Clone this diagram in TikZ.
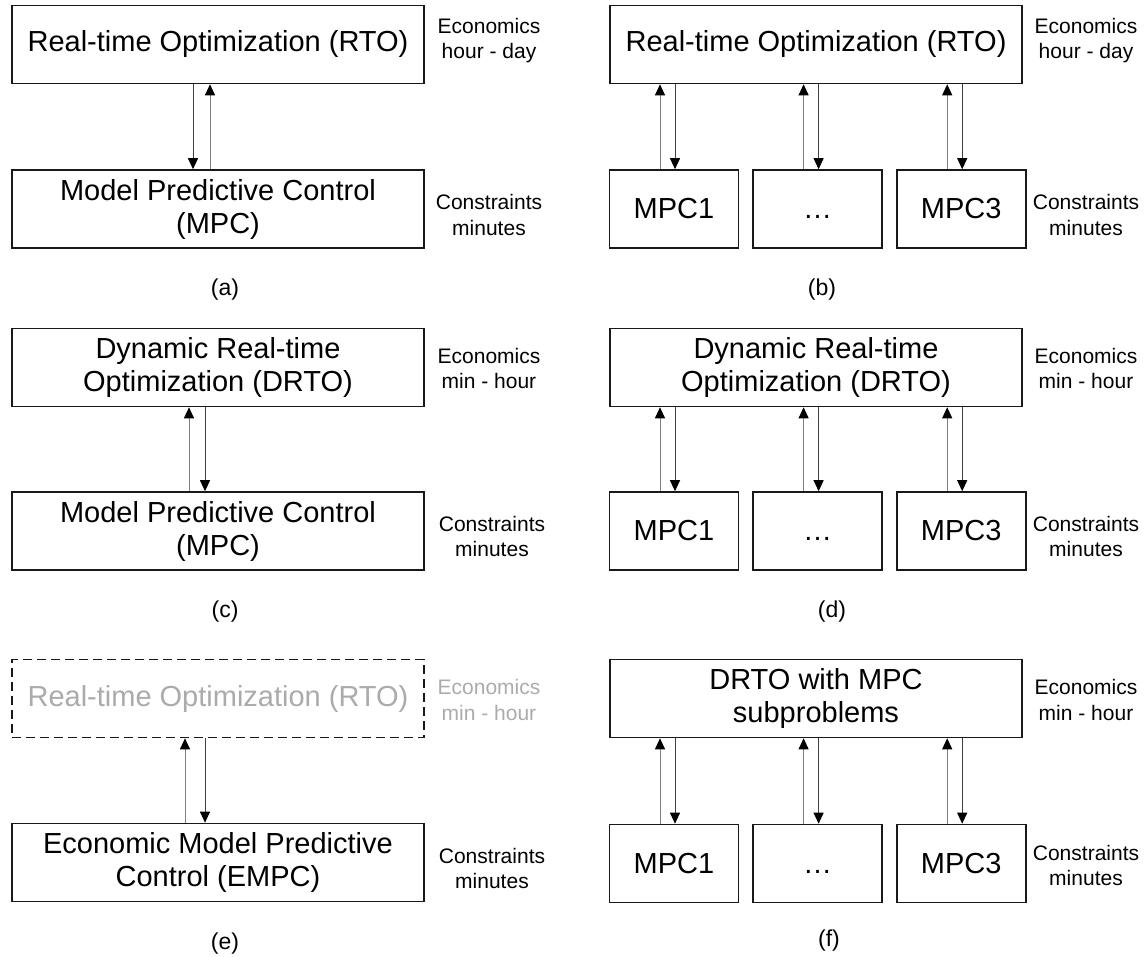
\documentclass[tikz,border=0pt]{standalone}
\usepackage{fontspec}
\setmainfont{Liberation Sans}
\usetikzlibrary{arrows.meta,positioning}

\tikzset{
	blk/.style={draw=black!90, line width=1.6pt, minimum height=78pt, inner sep=0pt, align=center, font=\fontsize{29}{33}\selectfont},
	widebox/.style={blk, minimum width=412pt},
	mpcbox/.style={blk, minimum width=129pt},
	ghostbox/.style={widebox, dash pattern=on 9pt off 5pt, text=black!33},
	sidelbl/.style={align=center, inner sep=0pt, font=\fontsize{21}{25.5}\selectfont},
	sublbl/.style={inner sep=0pt, font=\fontsize{23}{27}\selectfont},
	dnarr/.style={draw=black!75, line width=1pt, -{Triangle[length=11pt,width=10pt,color=black]}},
	uparr/.style={draw=black!50, line width=1pt, -{Triangle[length=11pt,width=10pt,color=black]}},
}

\begin{document}
\begin{tikzpicture}[x=1pt, y=-1pt]
		\useasboundingbox (0,0) rectangle (1146,957);
		% (a)
		\node[widebox] (rtoa) at (218,44.5) {Real-time Optimization (RTO)};
		\node[widebox] (mpca) at (218,209) {Model Predictive Control\\(MPC)};
		\draw[dnarr] ([xshift=-25pt]rtoa.south) -- ([xshift=-25pt]mpca.north);
		\draw[uparr] ([xshift=-8pt]mpca.north) -- ([xshift=-8pt]rtoa.south);
		\node[sidelbl] (eca) at (489,40.5) {Economics\\hour - day};
		\node[sidelbl] (coa) at (489,215) {Constraints\\minutes};
		\node[sublbl] (laba) at (225,290) {(a)};
		% (b)
		\node[widebox] (rtob) at (816,44.5) {Real-time Optimization (RTO)};
		\node[mpcbox] (b1) at (674,209) {MPC1};
		\node[mpcbox, right=13pt of b1] (b2) {\vphantom{1}…};
		\node[mpcbox, right=13pt of b2] (b3) {MPC3};
		\foreach \m in {b1,b2,b3} {
			\draw[uparr] ([xshift=-14pt]\m.north) -- ([xshift=-14pt]\m.north |- rtob.south);
			\draw[dnarr] ([xshift=1pt]\m.north |- rtob.south) -- ([xshift=1pt]\m.north);
		}
		\node[sidelbl] (ecb) at (1086,40.5) {Economics\\hour - day};
		\node[sidelbl] (cob) at (1086,215) {Constraints\\minutes};
		\node[sublbl] (labb) at (822,290) {(b)};
		% (c)
		\node[widebox] (drtoc) at (218,367.5) {Dynamic Real-time\\Optimization (DRTO)};
		\node[widebox] (mpcc) at (218,531) {Model Predictive Control\\(MPC)};
		\draw[uparr] ([xshift=-29pt]mpcc.north) -- ([xshift=-29pt]drtoc.south);
		\draw[dnarr] ([xshift=-13pt]drtoc.south) -- ([xshift=-13pt]mpcc.north);
		\node[sidelbl] (ecc) at (489,368.5) {Economics\\min - hour};
		\node[sidelbl] (coc) at (492,536.5) {Constraints\\minutes};
		\node[sublbl] (labc) at (225,612) {(c)};
		% (d)
		\node[widebox] (drtod) at (816,367.5) {Dynamic Real-time\\Optimization (DRTO)};
		\node[mpcbox] (d1) at (674,531) {MPC1};
		\node[mpcbox, right=13pt of d1] (d2) {\vphantom{1}…};
		\node[mpcbox, right=13pt of d2] (d3) {MPC3};
		\foreach \m in {d1,d2,d3} {
			\draw[uparr] ([xshift=-14pt]\m.north) -- ([xshift=-14pt]\m.north |- drtod.south);
			\draw[dnarr] ([xshift=1pt]\m.north |- drtod.south) -- ([xshift=1pt]\m.north);
		}
		\node[sidelbl] (ecd) at (1086,368.5) {Economics\\min - hour};
		\node[sidelbl] (cod) at (1086,536.5) {Constraints\\minutes};
		\node[sublbl] (labd) at (832,612) {(d)};
		% (e)
		\node[ghostbox] (rtoe) at (218,698.5) {Real-time Optimization (RTO)};
		\node[widebox] (empce) at (218,862.5) {Economic Model Predictive\\Control (EMPC)};
		\draw[uparr] ([xshift=-33pt]empce.north) -- ([xshift=-33pt]rtoe.south);
		\draw[dnarr] ([xshift=-13pt]rtoe.south) -- ([xshift=-13pt]empce.north);
		\node[sidelbl, text=black!33] (ece) at (489,700) {Economics\\min - hour};
		\node[sidelbl] (coe) at (492,868.5) {Constraints\\minutes};
		\node[sublbl] (labe) at (225,944) {(e)};
		% (f)
		\node[widebox] (drtof) at (816,698.5) {DRTO with MPC\\subproblems};
		\node[mpcbox] (f1) at (674,863.5) {MPC1};
		\node[mpcbox, right=13pt of f1] (f2) {\vphantom{1}…};
		\node[mpcbox, right=13pt of f2] (f3) {MPC3};
		\foreach \m in {f1,f2,f3} {
			\draw[uparr] ([xshift=-14pt]\m.north) -- ([xshift=-14pt]\m.north |- drtof.south);
			\draw[dnarr] ([xshift=1pt]\m.north |- drtof.south) -- ([xshift=1pt]\m.north);
		}
		\node[sidelbl] (ecf) at (1086,700) {Economics\\min - hour};
		\node[sidelbl] (cof) at (1086,865.5) {Constraints\\minutes};
		\node[sublbl] (labf) at (829,941) {(f)};
	\end{tikzpicture}
\end{document}
